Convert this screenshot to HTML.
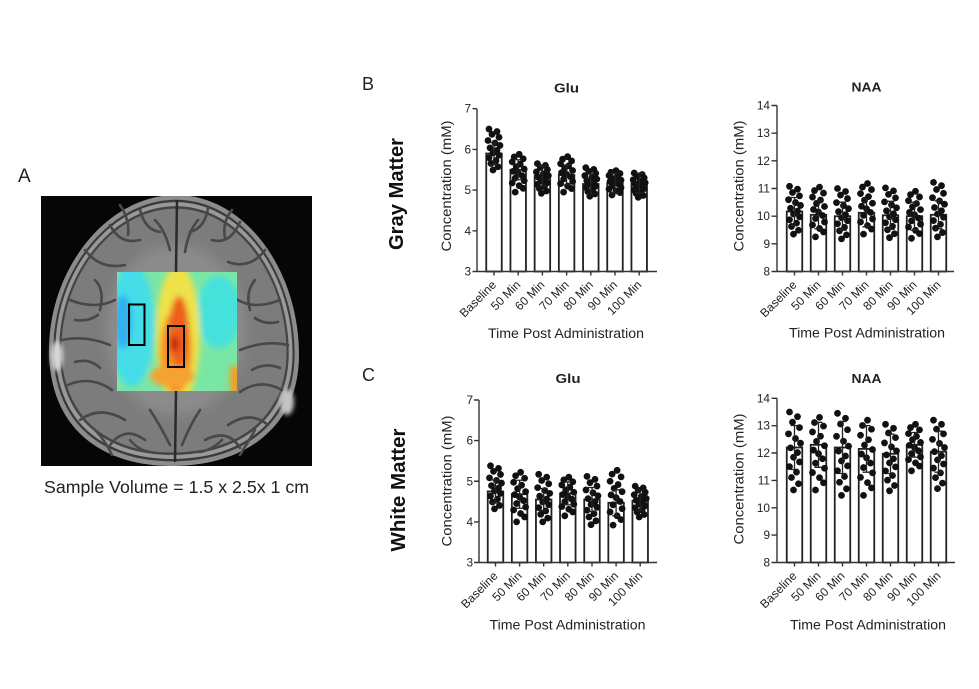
<!DOCTYPE html>
<html><head><meta charset="utf-8"><style>
html,body{margin:0;padding:0;background:#fff;}
svg{display:block;}
text{font-family:"Liberation Sans",Arial,sans-serif;fill:#222;}
.tk{font-size:11.8px;text-anchor:end;}
.xl{font-size:12px;text-anchor:end;}
.ttl{font-size:12.5px;font-weight:bold;text-anchor:middle;}
.ax{font-size:13.5px;text-anchor:middle;}
.big{font-size:20px;font-weight:bold;text-anchor:middle;fill:#111;}
.pl{font-size:18px;}
.axis{fill:none;stroke:#333;stroke-width:1.4;}
.bar{fill:#fff;stroke:#222;stroke-width:1.8;}
.eb{fill:none;stroke:#222;stroke-width:1.3;}
</style></head><body>
<svg width="979" height="689" viewBox="0 0 979 689" xmlns="http://www.w3.org/2000/svg">
<defs>
<path id="dA" d="M-5 0h.001M3 .06h.001M-2 .13h.001M5 .2h.001M-6 .28h.001M1 .34h.001M6 .4h.001M-4 .46h.001M3 .52h.001M-1 .58h.001M5 .64h.001M-5 .7h.001M2 .77h.001M-3 .84h.001M4 .92h.001M-1 1h.001" fill="none" stroke="#111" stroke-width="6.8" stroke-linecap="round" vector-effect="non-scaling-stroke"/>
<path id="dB" d="M1 0h.001M-4 .07h.001M5 .12h.001M-6 .2h.001M2 .26h.001M-2 .33h.001M6 .39h.001M-5 .45h.001M0 .5h.001M4 .57h.001M-3 .63h.001M6 .7h.001M-6 .76h.001M1 .83h.001M5 .9h.001M-3 1h.001" fill="none" stroke="#111" stroke-width="6.8" stroke-linecap="round" vector-effect="non-scaling-stroke"/>
<clipPath id="imgclip"><rect x="41" y="196" width="271" height="270"/></clipPath>
<clipPath id="hmclip"><rect x="117" y="272" width="120" height="119"/></clipPath>
<filter id="bl3" x="-30%" y="-30%" width="160%" height="160%"><feGaussianBlur stdDeviation="3"/></filter>
<filter id="bl6" x="-50%" y="-50%" width="200%" height="200%"><feGaussianBlur stdDeviation="6"/></filter>
<filter id="bl2" x="-50%" y="-50%" width="200%" height="200%"><feGaussianBlur stdDeviation="2"/></filter>
</defs>
<rect width="979" height="689" fill="#fff"/>

<!-- Panel A brain -->
<text class="pl" x="18" y="182" style="font-size:19px">A</text>
<g clip-path="url(#imgclip)">
<rect x="41" y="196" width="271" height="270" fill="#060606"/>
<path d="M176,195 C245,195 299,270 299,355 C299,427 245,466 172,466 C100,466 49,427 49,350 C49,268 108,195 176,195 Z" fill="#8c8c8c"/>
<path transform="translate(174 331) scale(.965) translate(-174 -331)" d="M176,195 C245,195 299,270 299,355 C299,427 245,466 172,466 C100,466 49,427 49,350 C49,268 108,195 176,195 Z" fill="#3a3a3a"/>
<path transform="translate(174 331) scale(.948) translate(-174 -331)" d="M176,195 C245,195 299,270 299,355 C299,427 245,466 172,466 C100,466 49,427 49,350 C49,268 108,195 176,195 Z" fill="#999"/>
<path transform="translate(174 331) scale(.918) translate(-174 -331)" d="M176,195 C245,195 299,270 299,355 C299,427 245,466 172,466 C100,466 49,427 49,350 C49,268 108,195 176,195 Z" fill="#444"/>
<path transform="translate(174 331) scale(.9) translate(-174 -331)" d="M176,195 C245,195 299,270 299,355 C299,427 245,466 172,466 C100,466 49,427 49,350 C49,268 108,195 176,195 Z" fill="#7c7c7c"/>
<ellipse cx="176" cy="330" rx="70" ry="85" fill="#999" opacity=".55" filter="url(#bl6)"/>
<ellipse cx="57" cy="356" rx="6" ry="15" fill="#d4d4d4" filter="url(#bl2)"/>
<ellipse cx="287" cy="402" rx="7" ry="13" fill="#c4c4c4" filter="url(#bl2)"/>
<g fill="none" stroke="#484848" stroke-width="2.6" stroke-linecap="round">
<path d="M70 300 Q95 310 115 300"/><path d="M62 340 Q85 335 110 345"/><path d="M68 385 Q90 375 112 390"/>
<path d="M85 250 Q100 270 125 265"/><path d="M110 225 Q120 245 140 240"/><path d="M140 210 Q145 230 160 232"/>
<path d="M80 420 Q100 405 125 420"/><path d="M110 445 Q125 425 145 440"/>
<path d="M280 300 Q255 310 238 300"/><path d="M288 345 Q265 340 240 350"/><path d="M282 390 Q260 378 240 392"/>
<path d="M265 250 Q250 270 228 262"/><path d="M240 222 Q230 245 212 240"/><path d="M208 208 Q205 228 190 232"/>
<path d="M268 425 Q250 410 228 425"/><path d="M240 448 Q228 428 205 440"/>
<path d="M150 410 Q160 425 170 445"/><path d="M200 410 Q190 425 182 445"/>
<path d="M95 280 Q105 290 100 310"/><path d="M255 280 Q245 292 250 310"/>
<path d="M75 320 Q88 322 98 315"/><path d="M75 362 Q90 358 100 368"/><path d="M278 322 Q265 325 255 318"/><path d="M280 368 Q265 362 252 370"/>
<path d="M120 205 Q130 220 128 235"/><path d="M232 210 Q222 222 225 238"/><path d="M155 220 Q165 230 170 250"/><path d="M198 220 Q188 232 185 252"/>
<path d="M130 440 Q138 450 150 452"/><path d="M222 440 Q212 450 200 452"/><path d="M95 430 Q105 440 112 455"/><path d="M255 430 Q248 442 240 455"/>
</g>
<path d="M177 200 L176 272 M176 391 L175 462" stroke="#2a2a2a" stroke-width="2.5" fill="none"/>
</g>
<!-- heatmap -->
<g clip-path="url(#hmclip)">
<rect x="117" y="272" width="120" height="119" fill="#7ae6a6"/>
<g filter="url(#bl3)">
<ellipse cx="132" cy="325" rx="22" ry="62" fill="#44dde8"/>
<ellipse cx="123" cy="322" rx="9" ry="27" fill="#30b0f0"/>
<ellipse cx="219" cy="312" rx="22" ry="36" fill="#44e2dc"/>
<ellipse cx="178" cy="335" rx="22" ry="70" fill="#eee24a"/>
<ellipse cx="176" cy="352" rx="16" ry="42" fill="#f49228"/>
<ellipse cx="179" cy="332" rx="10" ry="36" fill="#ee601e"/>
<ellipse cx="174" cy="344" rx="5" ry="8" fill="#c82018"/>
<ellipse cx="172" cy="376" rx="22" ry="11" fill="#f4a232"/>
<rect x="230" y="366" width="12" height="28" fill="#f0a028"/>
</g>
</g>
<rect x="129" y="304.5" width="15.5" height="40.5" fill="none" stroke="#000" stroke-width="2"/>
<rect x="168" y="326" width="16" height="41" fill="none" stroke="#000" stroke-width="2"/>
<text x="176.5" y="493" textLength="265" lengthAdjust="spacingAndGlyphs" style="font-size:17.5px;text-anchor:middle;fill:#222">Sample Volume = 1.5 x 2.5x 1 cm</text>

<!-- Labels B / C and row titles -->
<text class="pl" x="362" y="90">B</text>
<text class="pl" x="362" y="381">C</text>
<text class="big" transform="translate(403 194) rotate(-90)" textLength="112" lengthAdjust="spacingAndGlyphs">Gray Matter</text>
<text class="big" transform="translate(405 490) rotate(-90)" textLength="123" lengthAdjust="spacingAndGlyphs">White Matter</text>

<!-- ===== B Glu ===== -->
<text class="ttl" x="566.5" y="92.5" textLength="25" lengthAdjust="spacingAndGlyphs">Glu</text>
<text class="ax" transform="translate(451 186) rotate(-90)" textLength="131" lengthAdjust="spacingAndGlyphs">Concentration (mM)</text>
<text class="ax" x="566" y="338" textLength="156" lengthAdjust="spacingAndGlyphs">Time Post Administration</text>
<g>
<rect class="bar" x="486.25" y="153.5" width="15.5" height="118"/>
<rect class="bar" x="510.45" y="169.75" width="15.5" height="101.75"/>
<rect class="bar" x="534.65" y="175.9" width="15.5" height="95.6"/>
<rect class="bar" x="558.85" y="175" width="15.5" height="96.5"/>
<rect class="bar" x="583.05" y="184" width="15.5" height="87.5"/>
<rect class="bar" x="607.25" y="183.2" width="15.5" height="88.3"/>
<rect class="bar" x="631.45" y="183.2" width="15.5" height="88.3"/>
</g>
<use href="#dA" transform="translate(494 129.05) scale(1 40.95)"/>
<use href="#dB" transform="translate(518.2 154.3) scale(1 37.8)"/>
<use href="#dA" transform="translate(542.4 163.6) scale(1 29.8)"/>
<use href="#dB" transform="translate(566.6 156.7) scale(1 35.4)"/>
<use href="#dA" transform="translate(590.8 167.7) scale(1 28.5)"/>
<use href="#dB" transform="translate(615 170.6) scale(1 24.4)"/>
<use href="#dA" transform="translate(639.2 173) scale(1 24.4)"/>
<path class="eb" d="M494 142.5V164.5M490 142.5h8M490 164.5h8 M518.2 159.75V179.75M514.2 159.75h8M514.2 179.75h8 M542.4 165.9V185.9M538.4 165.9h8M538.4 185.9h8 M566.6 165V185M562.6 165h8M562.6 185h8 M590.8 174V194M586.8 174h8M586.8 194h8 M615 173.2V193.2M611 173.2h8M611 193.2h8 M639.2 173.2V193.2M635.2 173.2h8M635.2 193.2h8"/>
<path class="axis" d="M477 108.7V271.5H657 M472.5 108.7H477M472.5 149.4H477M472.5 190.1H477M472.5 230.8H477M472.5 271.5H477 M494 271.5v4M518.2 271.5v4M542.4 271.5v4M566.6 271.5v4M590.8 271.5v4M615 271.5v4M639.2 271.5v4"/>
<text class="tk" x="471" y="112.7">7</text><text class="tk" x="471" y="153.4">6</text><text class="tk" x="471" y="194.1">5</text><text class="tk" x="471" y="234.8">4</text><text class="tk" x="471" y="275.5">3</text>
<text class="xl" transform="translate(497 285.5) rotate(-45)">Baseline</text>
<text class="xl" transform="translate(521.2 285.5) rotate(-45)">50 Min</text>
<text class="xl" transform="translate(545.4 285.5) rotate(-45)">60 Min</text>
<text class="xl" transform="translate(569.6 285.5) rotate(-45)">70 Min</text>
<text class="xl" transform="translate(593.8 285.5) rotate(-45)">80 Min</text>
<text class="xl" transform="translate(618 285.5) rotate(-45)">90 Min</text>
<text class="xl" transform="translate(642.2 285.5) rotate(-45)">100 Min</text>

<!-- ===== B NAA ===== -->
<text class="ttl" x="866.5" y="91.7" textLength="30" lengthAdjust="spacingAndGlyphs">NAA</text>
<text class="ax" transform="translate(743.5 186) rotate(-90)" textLength="131" lengthAdjust="spacingAndGlyphs">Concentration (mM)</text>
<text class="ax" x="867" y="337.5" textLength="156" lengthAdjust="spacingAndGlyphs">Time Post Administration</text>
<g>
<rect class="bar" x="786.75" y="211.5" width="15.5" height="60"/>
<rect class="bar" x="810.75" y="214.8" width="15.5" height="56.7"/>
<rect class="bar" x="834.75" y="216.2" width="15.5" height="55.3"/>
<rect class="bar" x="858.75" y="212.8" width="15.5" height="58.7"/>
<rect class="bar" x="882.75" y="215.3" width="15.5" height="56.2"/>
<rect class="bar" x="906.75" y="216.2" width="15.5" height="55.3"/>
<rect class="bar" x="930.75" y="214.8" width="15.5" height="56.7"/>
</g>
<use href="#dA" transform="translate(794.5 186.3) scale(1 47.8)"/>
<use href="#dB" transform="translate(818.5 187.1) scale(1 49.8)"/>
<use href="#dA" transform="translate(842.5 188.5) scale(1 50.4)"/>
<use href="#dB" transform="translate(866.5 183.5) scale(1 50.6)"/>
<use href="#dA" transform="translate(890.5 187.9) scale(1 49.8)"/>
<use href="#dB" transform="translate(914.5 191.3) scale(1 47)"/>
<use href="#dA" transform="translate(938.5 182.4) scale(1 54.5)"/>
<path class="eb" d="M794.5 197.5V225.5M790.5 197.5h8M790.5 225.5h8 M818.5 200.8V228.8M814.5 200.8h8M814.5 228.8h8 M842.5 202.2V230.2M838.5 202.2h8M838.5 230.2h8 M866.5 198.8V226.8M862.5 198.8h8M862.5 226.8h8 M890.5 201.3V229.3M886.5 201.3h8M886.5 229.3h8 M914.5 202.2V230.2M910.5 202.2h8M910.5 230.2h8 M938.5 200.8V228.8M934.5 200.8h8M934.5 228.8h8"/>
<path class="axis" d="M777 105.5V271.5H954 M771.5 105.5H777M771.5 133.2H777M771.5 160.8H777M771.5 188.5H777M771.5 216.2H777M771.5 243.8H777M771.5 271.5H777 M794.5 271.5v4M818.5 271.5v4M842.5 271.5v4M866.5 271.5v4M890.5 271.5v4M914.5 271.5v4M938.5 271.5v4"/>
<text class="tk" x="770" y="109.5">14</text><text class="tk" x="770" y="137.2">13</text><text class="tk" x="770" y="164.8">12</text><text class="tk" x="770" y="192.5">11</text><text class="tk" x="770" y="220.2">10</text><text class="tk" x="770" y="247.8">9</text><text class="tk" x="770" y="275.5">8</text>
<text class="xl" transform="translate(797.5 285.5) rotate(-45)">Baseline</text>
<text class="xl" transform="translate(821.5 285.5) rotate(-45)">50 Min</text>
<text class="xl" transform="translate(845.5 285.5) rotate(-45)">60 Min</text>
<text class="xl" transform="translate(869.5 285.5) rotate(-45)">70 Min</text>
<text class="xl" transform="translate(893.5 285.5) rotate(-45)">80 Min</text>
<text class="xl" transform="translate(917.5 285.5) rotate(-45)">90 Min</text>
<text class="xl" transform="translate(941.5 285.5) rotate(-45)">100 Min</text>

<!-- ===== C Glu ===== -->
<text class="ttl" x="568" y="383" textLength="25" lengthAdjust="spacingAndGlyphs">Glu</text>
<text class="ax" transform="translate(451.5 481) rotate(-90)" textLength="131" lengthAdjust="spacingAndGlyphs">Concentration (mM)</text>
<text class="ax" x="567.5" y="629.3" textLength="156" lengthAdjust="spacingAndGlyphs">Time Post Administration</text>
<g>
<rect class="bar" x="487.75" y="491.4" width="15.5" height="71.1"/>
<rect class="bar" x="511.85" y="494.25" width="15.5" height="68.25"/>
<rect class="bar" x="535.95" y="499.5" width="15.5" height="63"/>
<rect class="bar" x="560.05" y="493.4" width="15.5" height="69.1"/>
<rect class="bar" x="584.25" y="499.5" width="15.5" height="63"/>
<rect class="bar" x="608.35" y="502.8" width="15.5" height="59.7"/>
<rect class="bar" x="632.45" y="500.75" width="15.5" height="61.75"/>
</g>
<use href="#dA" transform="translate(495.5 465.8) scale(1 43.1)"/>
<use href="#dB" transform="translate(519.6 472.3) scale(1 49.6)"/>
<use href="#dA" transform="translate(543.7 474.3) scale(1 47.6)"/>
<use href="#dB" transform="translate(567.8 477.2) scale(1 38.6)"/>
<use href="#dA" transform="translate(592 476.4) scale(1 48.3)"/>
<use href="#dB" transform="translate(616.1 470.3) scale(1 54.8)"/>
<use href="#dA" transform="translate(640.2 486.1) scale(1 30.9)"/>
<path class="eb" d="M495.5 480V502.8M491.5 480h8M491.5 502.8h8 M519.6 480.25V508.25M515.6 480.25h8M515.6 508.25h8 M543.7 488.5V510.5M539.7 488.5h8M539.7 510.5h8 M567.8 481.9V504.9M563.8 481.9h8M563.8 504.9h8 M592 487.5V511.5M588 487.5h8M588 511.5h8 M616.1 489.8V515.8M612.1 489.8h8M612.1 515.8h8 M640.2 490.75V510.75M636.2 490.75h8M636.2 510.75h8"/>
<path class="axis" d="M479 400V562.5H657 M474 400H479M474 440.6H479M474 481.25H479M474 521.9H479M474 562.5H479 M495.5 562.5v4M519.6 562.5v4M543.7 562.5v4M567.8 562.5v4M592 562.5v4M616.1 562.5v4M640.2 562.5v4"/>
<text class="tk" x="473" y="404">7</text><text class="tk" x="473" y="444.6">6</text><text class="tk" x="473" y="485.25">5</text><text class="tk" x="473" y="525.9">4</text><text class="tk" x="473" y="566.5">3</text>
<text class="xl" transform="translate(498.5 576.5) rotate(-45)">Baseline</text>
<text class="xl" transform="translate(522.6 576.5) rotate(-45)">50 Min</text>
<text class="xl" transform="translate(546.7 576.5) rotate(-45)">60 Min</text>
<text class="xl" transform="translate(570.8 576.5) rotate(-45)">70 Min</text>
<text class="xl" transform="translate(595 576.5) rotate(-45)">80 Min</text>
<text class="xl" transform="translate(619.1 576.5) rotate(-45)">90 Min</text>
<text class="xl" transform="translate(643.2 576.5) rotate(-45)">100 Min</text>

<!-- ===== C NAA ===== -->
<text class="ttl" x="866.5" y="383" textLength="30" lengthAdjust="spacingAndGlyphs">NAA</text>
<text class="ax" transform="translate(743.5 479) rotate(-90)" textLength="131" lengthAdjust="spacingAndGlyphs">Concentration (mM)</text>
<text class="ax" x="868" y="629.5" textLength="156" lengthAdjust="spacingAndGlyphs">Time Post Administration</text>
<g>
<rect class="bar" x="786.75" y="447.5" width="15.5" height="115"/>
<rect class="bar" x="810.75" y="444.8" width="15.5" height="117.7"/>
<rect class="bar" x="834.75" y="447.5" width="15.5" height="115"/>
<rect class="bar" x="858.75" y="448.9" width="15.5" height="113.6"/>
<rect class="bar" x="882.75" y="453.8" width="15.5" height="108.7"/>
<rect class="bar" x="906.75" y="444.8" width="15.5" height="117.7"/>
<rect class="bar" x="930.75" y="451.7" width="15.5" height="110.8"/>
</g>
<use href="#dA" transform="translate(794.5 412) scale(1 78)"/>
<use href="#dB" transform="translate(818.5 417.4) scale(1 72.6)"/>
<use href="#dA" transform="translate(842.5 413.3) scale(1 82.1)"/>
<use href="#dB" transform="translate(866.5 420.2) scale(1 75.2)"/>
<use href="#dA" transform="translate(890.5 424.3) scale(1 66.5)"/>
<use href="#dB" transform="translate(914.5 424.3) scale(1 46.5)"/>
<use href="#dA" transform="translate(938.5 420.2) scale(1 68.4)"/>
<path class="eb" d="M794.5 425.5V469.5M790.5 425.5h8M790.5 469.5h8 M818.5 422.3V467.3M814.5 422.3h8M814.5 467.3h8 M842.5 421.5V473.5M838.5 421.5h8M838.5 473.5h8 M866.5 425.6V472.2M862.5 425.6h8M862.5 472.2h8 M890.5 434.1V473.5M886.5 434.1h8M886.5 473.5h8 M914.5 432.5V457.1M910.5 432.5h8M910.5 457.1h8 M938.5 431.2V472.2M934.5 431.2h8M934.5 472.2h8"/>
<path class="axis" d="M777 398.3V562.5H955 M771.5 398.3H777M771.5 425.7H777M771.5 453H777M771.5 480.4H777M771.5 507.8H777M771.5 535.1H777M771.5 562.5H777 M794.5 562.5v4M818.5 562.5v4M842.5 562.5v4M866.5 562.5v4M890.5 562.5v4M914.5 562.5v4M938.5 562.5v4"/>
<text class="tk" x="770" y="402.3">14</text><text class="tk" x="770" y="429.7">13</text><text class="tk" x="770" y="457">12</text><text class="tk" x="770" y="484.4">11</text><text class="tk" x="770" y="511.8">10</text><text class="tk" x="770" y="539.1">9</text><text class="tk" x="770" y="566.5">8</text>
<text class="xl" transform="translate(797.5 576.5) rotate(-45)">Baseline</text>
<text class="xl" transform="translate(821.5 576.5) rotate(-45)">50 Min</text>
<text class="xl" transform="translate(845.5 576.5) rotate(-45)">60 Min</text>
<text class="xl" transform="translate(869.5 576.5) rotate(-45)">70 Min</text>
<text class="xl" transform="translate(893.5 576.5) rotate(-45)">80 Min</text>
<text class="xl" transform="translate(917.5 576.5) rotate(-45)">90 Min</text>
<text class="xl" transform="translate(941.5 576.5) rotate(-45)">100 Min</text>
</svg>
</body></html>
